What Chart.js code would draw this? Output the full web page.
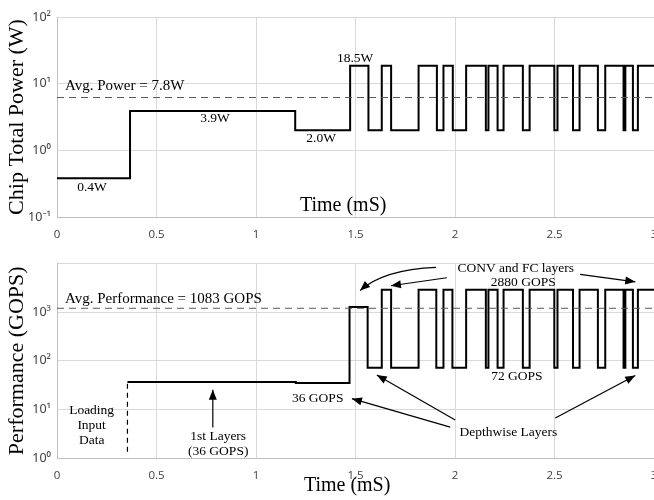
<!DOCTYPE html>
<html>
<head>
<meta charset="utf-8">
<script src="https://cdn.jsdelivr.net/npm/chart.js@4.4.0/dist/chart.umd.min.js"></script>
<style>
html, body { margin: 0; padding: 0; overflow: hidden; background: #fff; }
.box { position: absolute; left: 0; width: 680px; height: 250px; }
</style>
</head>
<body>
<div class="box" style="top:0"><canvas id="power" width="680" height="250"></canvas></div>
<div class="box" style="top:250px"><canvas id="perf" width="680" height="250"></canvas></div>
<script>
// DATA (time in mS)

// chip power trace, value holds until the next time
const powerTimes = [0, 0.367, 1.197, 1.473, 1.565, 1.632, 1.679, 1.817, 1.909, 1.942, 1.989, 2.056, 2.155, 2.168,
    2.214, 2.244, 2.341, 2.375, 2.499, 2.515, 2.593, 2.626, 2.718, 2.755, 2.847, 2.856, 2.894, 2.919, 3.0];
const powerValues = [0.38, 3.9, 2.0, 18.5, 2.0, 18.5, 2.0, 18.5, 2.0, 18.5, 2.0, 18.5, 2.0, 18.5,
    2.0, 18.5, 2.0, 18.5, 2.0, 18.5, 2.0, 18.5, 2.0, 18.5, 2.0, 18.5, 2.0, 18.5, 18.5];
const avgPower = 6.2; // dashed line as it sits in the picture (label says 7.8W)

// performance trace (GOPS)
const perfTimes = [0.354, 1.2, 1.47, 1.561, 1.632, 1.679, 1.817, 1.906, 1.942, 1.987, 2.056, 2.155, 2.168, 2.214,
    2.244, 2.341, 2.375, 2.499, 2.515, 2.593, 2.626, 2.718, 2.755, 2.847, 2.856, 2.894, 2.919, 3.0];
const perfValues = [36.5, 35, 1280, 72, 2880, 72, 2880, 72, 2880, 72, 2880, 72, 2880, 72,
    2880, 72, 2880, 72, 2880, 72, 2880, 72, 2880, 72, 2880, 72, 2880, 2880];
const loadTimes = [0.354, 0.354];
const loadValues = [1.35, 36.5];
const avgPerf = 1200;

const powerTicks = [0.1, 1, 10, 100];
const perfTicks = [1, 10, 100, 1000, 10000];

// CHART HELPERS

const SERIF = '"Liberation Serif", "Times New Roman", serif';
const gridCol = '#d9d9d9';
const tickCol = '#404040';

function pow10Label(v) {
    const sup = {'0': '⁰', '1': '¹', '2': '²', '3': '³', '4': '⁴', '-': '⁻'};
    const e = Math.round(Math.log10(v));
    return '10' + String(e).split('').map(c => sup[c]).join('');
}

function pts(xs, ys) {
    return xs.map((t, i) => ({x: t, y: ys[i]}));
}

function drawHead(ctx, fx, fy, tx, ty) {
    const a = Math.atan2(ty - fy, tx - fx);
    const len = 10, w = 4;
    ctx.beginPath();
    ctx.moveTo(tx, ty);
    ctx.lineTo(tx - len * Math.cos(a) + w * Math.sin(a), ty - len * Math.sin(a) - w * Math.cos(a));
    ctx.lineTo(tx - len * Math.cos(a) - w * Math.sin(a), ty - len * Math.sin(a) + w * Math.cos(a));
    ctx.closePath();
    ctx.fill();
}

// texts and arrows placed in data coordinates
function makeNotes(texts, arrows) {
    return {
        id: 'notes',
        afterDatasetsDraw(chart) {
            const {ctx, scales: {x, y}} = chart;
            ctx.save();
            ctx.fillStyle = '#000';
            ctx.strokeStyle = '#000';
            ctx.lineWidth = 1.2;
            ctx.textBaseline = 'middle';
            texts.forEach(t => {
                ctx.font = (t.size || 13.5) + 'px ' + SERIF;
                ctx.textAlign = t.align || 'center';
                ctx.fillText(t.text, x.getPixelForValue(t.x), y.getPixelForValue(t.y));
            });
            arrows.forEach(a => {
                const p = a.map((v, i) => i % 2 ? y.getPixelForValue(v) : x.getPixelForValue(v));
                ctx.beginPath();
                ctx.moveTo(p[0], p[1]);
                if (p.length === 6) {
                    ctx.quadraticCurveTo(p[2], p[3], p[4], p[5]);
                    ctx.stroke();
                    drawHead(ctx, p[2], p[3], p[4], p[5]);
                } else {
                    ctx.lineTo(p[2], p[3]);
                    ctx.stroke();
                    drawHead(ctx, p[0], p[1], p[2], p[3]);
                }
            });
            ctx.restore();
        }
    };
}

function xScale(h) {
    return {
        type: 'linear', min: 0, max: 3,
        afterFit: s => { s.height = h; },
        ticks: {
            stepSize: 0.5, maxRotation: 0, color: tickCol, padding: 11,
            font: {family: 'Open Sans', size: 11.5},
            callback: v => String(v)
        },
        grid: {color: gridCol, drawTicks: false},
        border: {color: '#bfbfbf'}
    };
}

function yScale(min, max, ticks, title) {
    return {
        type: 'logarithmic', min: min, max: max,
        afterBuildTicks: s => { s.ticks = ticks.map(v => ({value: v})); },
        afterFit: s => { s.width = 57; },
        ticks: {
            callback: v => (v > 1000 ? '' : pow10Label(v)),
            color: tickCol, padding: 6, font: {family: 'Noto Sans', size: 12.5}
        },
        grid: {color: gridCol, drawTicks: false},
        border: {color: '#bfbfbf'},
        title: {display: true, text: title, color: '#000', padding: {top: 4, bottom: 0}, font: {family: SERIF, size: 22}}
    };
}

const baseOpts = {
    responsive: false,
    animation: false,
    plugins: {legend: {display: false}, tooltip: {enabled: false}}
};

// TOP: CHIP POWER

new Chart(document.getElementById('power'), {
    type: 'line',
    data: {
        datasets: [
            {data: pts([0, 3], [avgPower, avgPower]), borderColor: '#595959', borderWidth: 1, borderDash: [7, 5], pointRadius: 0},
            {data: pts(powerTimes, powerValues), borderColor: '#000', borderWidth: 2, stepped: true, pointRadius: 0}
        ]
    },
    options: Object.assign({}, baseOpts, {
        layout: {padding: {top: 17, right: 26, left: 0, bottom: 0}},
        scales: {x: xScale(33), y: yScale(0.1, 100, powerTicks, 'Chip Total Power (W)')}
    }),
    plugins: [makeNotes([
        {text: 'Avg. Power = 7.8W', x: 0.04, y: 9.1, align: 'left', size: 15},
        {text: '0.4W', x: 0.176, y: 0.275},
        {text: '3.9W', x: 0.794, y: 2.99},
        {text: '2.0W', x: 1.327, y: 1.53},
        {text: '18.5W', x: 1.498, y: 24.3},
        {text: 'Time (mS)', x: 1.438, y: 0.148, size: 20}
    ], [])]
});

// BOTTOM: PERFORMANCE

new Chart(document.getElementById('perf'), {
    type: 'line',
    data: {
        datasets: [
            {data: pts([0, 3], [avgPerf, avgPerf]), borderColor: '#595959', borderWidth: 1, borderDash: [7, 5], pointRadius: 0},
            {data: pts(loadTimes, loadValues), borderColor: '#000', borderWidth: 1.2, borderDash: [5, 4], pointRadius: 0},
            {data: pts(perfTimes, perfValues), borderColor: '#000', borderWidth: 2, stepped: true, pointRadius: 0}
        ]
    },
    options: Object.assign({}, baseOpts, {
        layout: {padding: {top: 8, right: 26, left: 0, bottom: 0}},
        scales: {x: xScale(42), y: yScale(1, 10000, perfTicks, 'Performance (GOPS)')}
    }),
    plugins: [makeNotes([
        {text: 'Avg. Performance = 1083 GOPS', x: 0.04, y: 1838, align: 'left', size: 15},
        {text: 'CONV and FC layers', x: 2.305, y: 7850},
        {text: '2880 GOPS', x: 2.343, y: 4055},
        {text: '72 GOPS', x: 2.311, y: 48},
        {text: '36 GOPS', x: 1.31, y: 16.6},
        {text: 'Depthwise Layers', x: 2.268, y: 3.43},
        {text: 'Loading', x: 0.174, y: 9.55},
        {text: 'Input', x: 0.174, y: 4.66},
        {text: 'Data', x: 0.174, y: 2.33},
        {text: '1st Layers', x: 0.81, y: 2.81},
        {text: '(36 GOPS)', x: 0.81, y: 1.35},
        {text: 'Time (mS)', x: 1.458, y: 0.27, size: 20}
    ], [
        [0.783, 4.25, 0.783, 25.3],
        [1.976, 4.3, 1.482, 16.6],
        [2.001, 6.04, 1.607, 51],
        [2.504, 6.62, 2.906, 49.7],
        [1.905, 8318, 1.641, 7500, 1.523, 2773],
        [1.959, 5100, 1.678, 3490],
        [2.629, 5960, 2.906, 4190]
    ])]
});
</script>
</body>
</html>
